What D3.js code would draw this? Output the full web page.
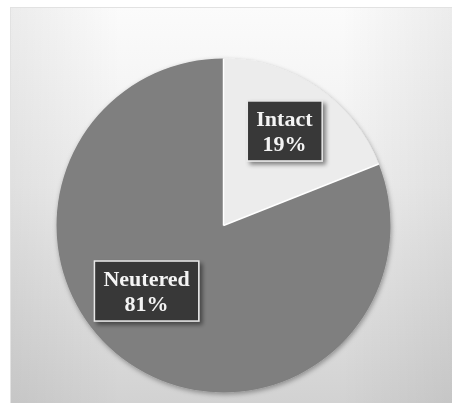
<!DOCTYPE html>
<html>
<head>
<meta charset="utf-8">
<script src="https://cdn.jsdelivr.net/npm/d3@7"></script>
<style>
  html, body { margin: 0; padding: 0; background: #ffffff; }
  svg { display: block; }
</style>
</head>
<body>
<svg id="chart" width="452" height="407"></svg>
<script>
// Status categories and their shares (%)
const categories = ["Intact", "Neutered"];
const shares = [19, 81];
const sliceColors = ["#ececec", "#7f7f7f"];

const W = 452, H = 407;
const svg = d3.select("#chart");
const defs = svg.append("defs");

// Panel background: soft grey gradient
const bg = defs.append("linearGradient")
  .attr("id", "panelGrad").attr("x1", 0).attr("y1", 0).attr("x2", 0).attr("y2", 1);
bg.append("stop").attr("offset", "0%").attr("stop-color", "#fbfbfb");
bg.append("stop").attr("offset", "45%").attr("stop-color", "#eeeeee");
bg.append("stop").attr("offset", "100%").attr("stop-color", "#d2d2d2");

const sideGrad = defs.append("linearGradient")
  .attr("id", "sideGrad").attr("x1", 0).attr("y1", 0).attr("x2", 1).attr("y2", 0);
sideGrad.append("stop").attr("offset", "0%").attr("stop-color", "#000").attr("stop-opacity", 0.06);
sideGrad.append("stop").attr("offset", "25%").attr("stop-color", "#000").attr("stop-opacity", 0);
sideGrad.append("stop").attr("offset", "75%").attr("stop-color", "#000").attr("stop-opacity", 0);
sideGrad.append("stop").attr("offset", "100%").attr("stop-color", "#000").attr("stop-opacity", 0.06);

// Shadows for pie and labels
const pieShadow = defs.append("filter").attr("id", "pieShadow")
  .attr("x", "-10%").attr("y", "-10%").attr("width", "120%").attr("height", "120%");
pieShadow.append("feDropShadow").attr("dx", 1).attr("dy", 2).attr("stdDeviation", 2.5)
  .attr("flood-color", "#000").attr("flood-opacity", 0.35);

const boxShadow = defs.append("filter").attr("id", "boxShadow")
  .attr("x", "-20%").attr("y", "-20%").attr("width", "150%").attr("height", "150%");
boxShadow.append("feDropShadow").attr("dx", 3).attr("dy", 3).attr("stdDeviation", 2)
  .attr("flood-color", "#000").attr("flood-opacity", 0.45);

const textSoft = defs.append("filter").attr("id", "textSoft");
textSoft.append("feGaussianBlur").attr("stdDeviation", 0.35);

// Panel
const panel = { x: 10, y: 7, w: W - 10, h: 396 };
svg.append("rect").attr("x", panel.x).attr("y", panel.y)
  .attr("width", panel.w).attr("height", panel.h).attr("fill", "url(#panelGrad)");
svg.append("rect").attr("x", panel.x).attr("y", panel.y)
  .attr("width", panel.w).attr("height", panel.h).attr("fill", "url(#sideGrad)");
svg.append("line").attr("x1", panel.x).attr("x2", W).attr("y1", panel.y + 0.5).attr("y2", panel.y + 0.5)
  .attr("stroke", "#e2e2e2");
svg.append("line").attr("x1", panel.x + 0.5).attr("x2", panel.x + 0.5).attr("y1", panel.y).attr("y2", panel.y + panel.h)
  .attr("stroke", "#e2e2e2");

// Pie
const cx = 223.5, cy = 225.5, R = 167;
const data = categories.map((c, i) => ({ cat: c, value: shares[i], color: sliceColors[i] }));

const pie = d3.pie().sort(null).value(d => d.value);
const arcs = pie(data);
const arc = d3.arc().innerRadius(0).outerRadius(R);

const g = svg.append("g").attr("transform", `translate(${cx},${cy})`);

const pieG = g.append("g").attr("filter", "url(#pieShadow)");
pieG.selectAll("path").data(arcs).join("path")
  .attr("d", arc)
  .attr("fill", d => d.data.color);

// White separators between slices
pieG.selectAll("line.sep").data(arcs).join("line")
  .attr("class", "sep")
  .attr("x1", 0).attr("y1", 0)
  .attr("x2", d => R * Math.sin(d.startAngle))
  .attr("y2", d => -R * Math.cos(d.startAngle))
  .attr("stroke", "#ffffff")
  .attr("stroke-width", 1.5);

// Labels in dark boxes
const labelArc = d3.arc().innerRadius(R * 0.67).outerRadius(R * 0.67);
const labelNudge = [[-2, -3], [-14, -28]];
const fontSize = 22;
const lineGap = 25;

arcs.forEach((a, i) => {
  const [lx0, ly0] = labelArc.centroid(a);
  const lx = lx0 + labelNudge[i][0], ly = ly0 + labelNudge[i][1];
  const lg = g.append("g").attr("transform", `translate(${lx},${ly})`);

  const box = lg.append("rect")
    .attr("fill", "#383838")
    .attr("stroke", "#e8e8e8")
    .attr("stroke-width", 1.5)
    .attr("filter", "url(#boxShadow)");

  const txt = lg.append("text")
    .attr("text-anchor", "middle")
    .attr("font-family", "'Liberation Serif', 'Times New Roman', serif")
    .attr("font-weight", "bold")
    .attr("font-size", fontSize)
    .attr("fill", "#f4f4f4")
    .attr("filter", "url(#textSoft)");
  txt.append("tspan").attr("x", 0).attr("y", -4).text(a.data.cat);
  txt.append("tspan").attr("x", 0).attr("y", -4 + lineGap).text(a.data.value + "%");

  const bb = txt.node().getBBox();
  const padX = 9, padY = 5;
  box.attr("x", bb.x - padX).attr("y", bb.y - padY)
    .attr("width", bb.width + padX * 2).attr("height", bb.height + padY * 2);
});
</script>
</body>
</html>
